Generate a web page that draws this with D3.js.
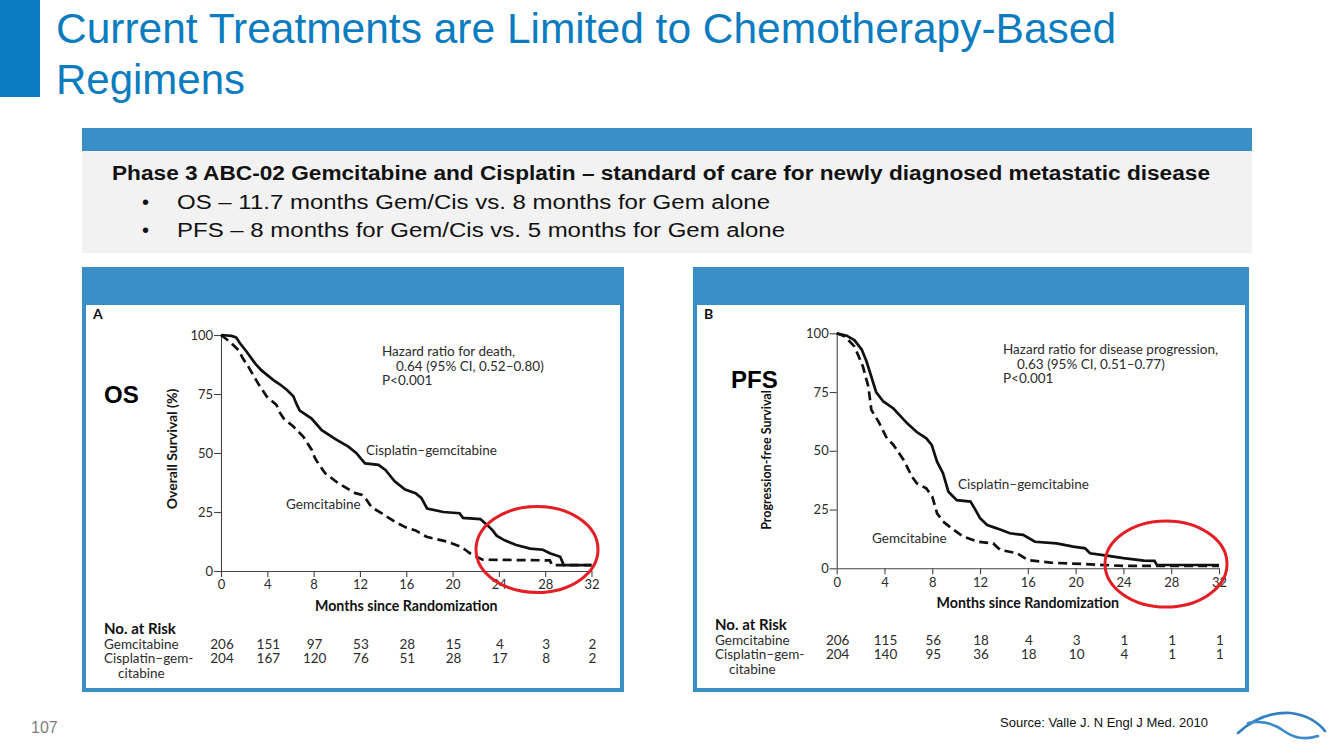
<!DOCTYPE html>
<html><head><meta charset="utf-8">
<script src="https://cdn.jsdelivr.net/npm/d3@7"></script>
<style>body{margin:0;background:#fff}svg{display:block}</style>
</head><body><svg id="c" width="1344" height="756"></svg>
<script>
// ---------- data ----------
const monthTicks = [0, 4, 8, 12, 16, 20, 24, 28, 32];
const survTicks = [0, 25, 50, 75, 100];

// Overall survival (%) vs months — Panel A
const osCisGem = [[0,100],[0.9,99.6],[1.3,99],[1.64,96.5],[2.2,93],[2.94,88],[3.5,85],[4.5,81],[5.1,79],[5.7,76.7],[6.25,74],[6.5,71],[6.8,68],[7.8,64.7],[8.2,62.5],[8.7,59.7],[9.85,56],[11,52.7],[11.7,49.9],[12.1,47.5],[12.45,45.6],[13.6,45],[14.2,42.8],[15,38],[15.9,34.5],[16.8,33],[17.3,31],[17.8,26.5],[19.2,25],[20.6,24.5],[20.9,22.5],[22.4,22],[23.1,19],[23.5,17],[23.8,15],[24.5,13],[25.5,11],[26.7,9.5],[27.8,9],[28.4,7.5],[29.3,6],[29.6,2.5],[32,2.5]];
const osGem = [[0,100],[0.8,97],[1.5,93.6],[1.9,90],[2.36,86.6],[3.2,79.5],[3.95,73.9],[4.8,70.3],[5.1,67],[5.4,64.7],[6.25,61.2],[7.1,57],[7.84,51.3],[8.1,48],[8.4,45.6],[9,41.4],[10.1,37.3],[11.6,33],[12.2,32.2],[12.6,30],[13,27],[13.9,24.4],[15,20.9],[15.9,18.6],[16.8,17.2],[17.75,14.5],[18.6,13.5],[19.5,12.5],[20.6,10.5],[21.1,9],[21.5,7.5],[22.1,6],[22.6,4.8],[28.4,4.5],[28.6,2.5],[32,2.5]];

// Progression-free survival (%) vs months — Panel B
const pfsCisGem = [[0,100],[0.84,99],[1.5,97],[2.1,93],[2.5,88],[2.9,81.5],[3.3,75],[3.9,71],[4.75,68],[5.3,65],[5.9,61.7],[6.7,58],[7.5,55.3],[7.95,52.5],[8.4,45.4],[8.9,40.4],[9.35,32.6],[10.05,29],[11.2,28.4],[11.6,25],[12,21.3],[12.6,18.4],[13.4,17],[14.5,14.9],[15.6,14.2],[16.6,11.3],[18.4,10.6],[19.8,9.2],[20.8,8.5],[21.2,6.4],[22.6,5.4],[24,4.3],[25.7,3.3],[26.6,3.2],[26.8,1.4],[32,1.4]];
const pfsGem = [[0,100],[0.7,98.6],[1.5,94.3],[2.2,85.8],[2.65,77.3],[2.9,67.4],[3.5,62.4],[4.2,55.3],[4.75,52.5],[5.6,46.1],[6.3,39],[6.7,36.2],[7.5,34],[8,30.5],[8.4,23.4],[8.9,19.9],[9.8,16.3],[10.6,13.5],[11.8,11.3],[13.1,10.6],[13.7,7.8],[15.1,6.4],[16,3.5],[17.9,2.4],[21.2,1.7],[24,1],[32,1]];

const osRiskGem = [206, 151, 97, 53, 28, 15, 4, 3, 2];
const osRiskCis = [204, 167, 120, 76, 51, 28, 17, 8, 2];
const pfsRiskGem = [206, 115, 56, 18, 4, 3, 1, 1, 1];
const pfsRiskCis = [204, 140, 95, 36, 18, 10, 4, 1, 1];

const titleLines = ["Current Treatments are Limited to Chemotherapy-Based", "Regimens"];
const boxHeading = "Phase 3 ABC-02 Gemcitabine and Cisplatin \u2013 standard of care for newly diagnosed metastatic disease";
const boxBullets = ["OS \u2013 11.7 months Gem/Cis vs. 8 months for Gem alone", "PFS \u2013 8 months for Gem/Cis vs. 5 months for Gem alone"];

// ---------- drawing ----------
const svg = d3.select("#c");
const BLUE = "#0b7cc0", PANEL = "#3a8ec6", INK = "#2b2b2b";
const SANS = "'Liberation Sans', Arial, sans-serif";
const CH = "Lato, 'Open Sans', sans-serif";

svg.append("rect").attr("x",0).attr("y",0).attr("width",40).attr("height",97).attr("fill","#0a7dc2");
const titleW=[1060,189];
titleLines.forEach((t,i)=>svg.append("text").attr("x",56).attr("y",43+i*51)
  .attr("font-family",SANS).attr("font-size",42).attr("fill",BLUE)
  .attr("textLength",titleW[i]).attr("lengthAdjust","spacingAndGlyphs").text(t));

// info box
svg.append("rect").attr("x",82).attr("y",128).attr("width",1170).attr("height",125).attr("fill","#f2f2f2");
svg.append("rect").attr("x",82).attr("y",128).attr("width",1170).attr("height",23).attr("fill",PANEL);
svg.append("text").attr("x",112).attr("y",180).attr("font-family",SANS).attr("font-weight","bold")
  .attr("font-size",19.5).attr("fill","#111").attr("textLength",1098).attr("lengthAdjust","spacingAndGlyphs").text(boxHeading);
const bulletW=[593,608];
boxBullets.forEach((t,i)=>{
  svg.append("text").attr("x",142).attr("y",209+i*28).attr("font-family",SANS).attr("font-size",20).attr("fill","#111").text("\u2022");
  svg.append("text").attr("x",177).attr("y",209+i*28).attr("font-family",SANS).attr("font-size",20).attr("fill","#111")
    .attr("textLength",bulletW[i]).attr("lengthAdjust","spacingAndGlyphs").text(t);
});

function panel(cfg){
  const g = svg.append("g");
  g.append("rect").attr("x",cfg.bx).attr("y",267).attr("width",cfg.bw).attr("height",425).attr("fill",PANEL);
  g.append("rect").attr("x",cfg.bx+4).attr("y",305).attr("width",cfg.bw-8).attr("height",383).attr("fill","#fff");
  g.append("text").attr("x",cfg.bx+11).attr("y",319).attr("font-family",CH).attr("font-weight","bold").attr("font-size",14).attr("fill","#111").text(cfg.letter);

  const x = d3.scaleLinear().domain([0,32]).range([cfg.xl,cfg.xr]);
  const y = d3.scaleLinear().domain([0,100]).range([cfg.yb,cfg.yt]);

  const ax = g.append("g").attr("transform",`translate(0,${cfg.yb})`)
    .call(d3.axisBottom(x).tickValues(monthTicks).tickSize(6).tickSizeOuter(0).tickPadding(3));
  const ay = g.append("g").attr("transform",`translate(${cfg.xl},0)`)
    .call(d3.axisLeft(y).tickValues(survTicks).tickSize(7).tickSizeOuter(0).tickPadding(1));
  [ax,ay].forEach(a=>{
    a.selectAll("path,line").attr("stroke","#444").attr("stroke-width",1.1);
    a.selectAll("text").attr("font-family",CH).attr("font-size",13).attr("fill",INK);
  });

  const line = d3.line().x(d=>x(d[0])).y(d=>y(d[1])).curve(d3.curveLinear);
  g.append("path").datum(cfg.gem).attr("d",line).attr("fill","none").attr("stroke","#111")
    .attr("stroke-width",2.7).attr("stroke-dasharray","9,5");
  g.append("path").datum(cfg.cis).attr("d",line).attr("fill","none").attr("stroke","#111").attr("stroke-width",2.7);

  const txt=(xx,yy,s,o={})=>g.append("text").attr("x",xx).attr("y",yy).attr("font-family",CH)
    .attr("font-size",o.size||13.5).attr("font-weight",o.bold?"bold":"normal").attr("fill",o.fill||INK)
    .attr("text-anchor",o.anchor||"start").text(s);

  cfg.hr.forEach((s,i)=>txt(cfg.hrx+(i===1?14:0), cfg.hry+i*14.5, s));
  txt(cfg.cisLab[0],cfg.cisLab[1],"Cisplatin\u2013gemcitabine");
  txt(cfg.gemLab[0],cfg.gemLab[1],"Gemcitabine");
  txt((cfg.xl+cfg.xr)/2, cfg.yb+40, "Months since Randomization", {bold:true,size:14.2,fill:"#111",anchor:"middle"});
  g.append("text").attr("transform",`translate(${cfg.ytx},${cfg.yty}) rotate(-90)`).attr("text-anchor","middle")
    .attr("font-family",CH).attr("font-weight","bold").attr("font-size",cfg.ytsize).attr("fill","#111").text(cfg.ytitle);

  // risk table
  txt(cfg.bx+22, cfg.ry, "No. at Risk", {bold:true,size:15,fill:"#111"});
  txt(cfg.bx+22, cfg.ry+14.5, "Gemcitabine");
  txt(cfg.bx+22, cfg.ry+29, "Cisplatin\u2013gem-");
  txt(cfg.bx+36, cfg.ry+43.5, "citabine");
  monthTicks.forEach((m,i)=>{
    txt(x(m)+1, cfg.ry+14.5, cfg.riskGem[i], {anchor:"middle"});
    txt(x(m)+1, cfg.ry+29, cfg.riskCis[i], {anchor:"middle"});
  });

  // big label
  txt(cfg.big[0],cfg.big[1],cfg.bigText,{bold:true,size:24,fill:"#000"}).attr("font-family",SANS);
  // red ellipse
  g.append("ellipse").attr("cx",cfg.ell[0]).attr("cy",cfg.ell[1]).attr("rx",61).attr("ry",43)
    .attr("fill","none").attr("stroke","#e31e24").attr("stroke-width",3);
}

panel({bx:82,bw:542,letter:"A",xl:221,xr:591.5,yt:335,yb:571,gem:osGem,cis:osCisGem,
  hr:["Hazard ratio for death,","0.64 (95% CI, 0.52\u20130.80)","P<0.001"],hrx:382,hry:356,
  cisLab:[366,455],gemLab:[286,509],ytx:177,yty:449,ytsize:14,ytitle:"Overall Survival (%)",
  ry:634,riskGem:osRiskGem,riskCis:osRiskCis,big:[104,403],bigText:"OS",ell:[537,549.5]});
panel({bx:693,bw:556,letter:"B",xl:836.7,xr:1219,yt:333.3,yb:568.3,gem:pfsGem,cis:pfsCisGem,
  hr:["Hazard ratio for disease progression,","0.63 (95% CI, 0.51\u20130.77)","P<0.001"],hrx:1003,hry:354,
  cisLab:[958,489],gemLab:[872,543],ytx:771,yty:460,ytsize:12.5,ytitle:"Progression-free Survival",
  ry:630,riskGem:pfsRiskGem,riskCis:pfsRiskCis,big:[731,388],bigText:"PFS",ell:[1166,564]});

// footer
svg.append("text").attr("x",31).attr("y",733).attr("font-family",SANS).attr("font-size",16).attr("fill","#808080").text("107");
svg.append("text").attr("x",1000).attr("y",727).attr("font-family",SANS).attr("font-size",13).attr("fill","#111").text("Source: Valle J. N Engl J Med. 2010");
const logo = svg.append("g").attr("fill","none").attr("stroke-linecap","round");
logo.append("path").attr("d","M1238,733 Q1262,711 1291,713 Q1313,716 1325,731").attr("stroke","#2f7fc1").attr("stroke-width",2.6);
logo.append("path").attr("d","M1248,723 Q1268,719 1284,731 Q1299,742 1318,736").attr("stroke","#3d8bcb").attr("stroke-width",2.6);
</script></body></html>
